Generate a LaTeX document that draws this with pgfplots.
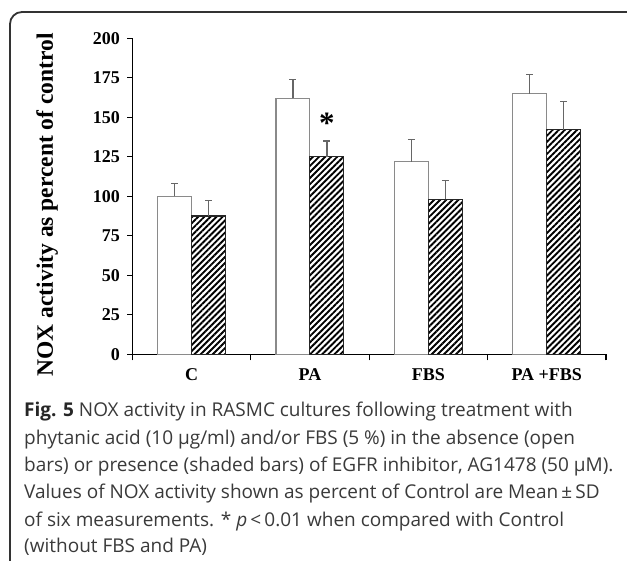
\documentclass[border=0pt]{standalone}
\usepackage{pgfplots}
\pgfplotsset{compat=1.18}
\usepackage{fontspec}
\setmainfont{Liberation Serif}
\newfontfamily\capfont{Open Sans}
\usetikzlibrary{patterns.meta}

\definecolor{framecol}{HTML}{333333}
\definecolor{barline}{HTML}{8A8A8A}
\definecolor{errcol}{HTML}{666666}
\definecolor{captext}{HTML}{3A3A3A}

% open bars: mean, +SD
\pgfplotstableread{
x  y    e
0  100  8
1  162  12
2  122  14
3  165  12
}\openbars
% shaded bars (AG1478)
\pgfplotstableread{
x  y    e
0  87.5 10
1  125  10
2  98   12
3  142  18
}\shadedbars

\begin{document}
\begin{tikzpicture}[x=1pt,y=1pt]
\useasboundingbox (0,0) rectangle (627,561);
\fill[white] (0,0) rectangle (627,561);
\draw[framecol, line width=1.8pt, rounded corners=12pt]
  (10,-5) -- (10,549) -- (640,549);

\begin{axis}[
  at={(132.3pt,206.7pt)}, anchor=south west,
  scale only axis,
  width=473.7pt, height=316pt,
  xmin=-0.5, xmax=3.5,
  ymin=0, ymax=200,
  ybar=0pt, bar width=0.287,
  axis x line=bottom, axis y line=left,
  axis line style={-, line width=1.5pt, black},
  xtick={0,1,2,3},
  xticklabels={C,PA,FBS,PA +FBS},
  major x tick style={draw=none},
  minor xtick={-0.5,0.5,1.5,2.5,3.5},
  minor x tick style={line width=1.3pt, black},
  minor tick length=6pt,
  ytick={0,25,...,200},
  major y tick style={line width=1.3pt, black},
  major tick length=5pt,
  tick align=outside,
  /pgf/number format/assume math mode=true,
  tick label style={font=\bfseries\fontsize{18}{18}\selectfont},
  xticklabel style={yshift=-6pt},
  yticklabel style={xshift=-4pt},
  ylabel={NOX activity as percent of control},
  every axis y label/.style={at={(axis description cs:-0.18,0.473)}, rotate=90,
    anchor=center, font=\bfseries\fontsize{23.5}{23.5}\selectfont},
  clip=false,
]
\addplot[draw=barline, line width=1.1pt, fill=white,
  error bars/.cd, y dir=plus, y explicit,
  error bar style={errcol, line width=1.3pt},
  error mark options={errcol, line width=1.3pt, mark size=3.5pt, rotate=90}]
  table[x=x, y=y, y error=e] {\openbars};
\addplot[draw=black!85, line width=1.1pt,
  pattern={Lines[angle=45, distance=4.3pt, line width=1.9pt]}, pattern color=black,
  error bars/.cd, y dir=plus, y explicit,
  error bar style={errcol, line width=1.3pt},
  error mark options={errcol, line width=1.3pt, mark size=3.5pt, rotate=90}]
  table[x=x, y=y, y error=e] {\shadedbars};
\node[font=\bfseries\fontsize{31}{31}\selectfont] at (axis cs:1.1435,146) {*};
\end{axis}

\begin{scope}[font=\capfont\fontsize{19}{28}\selectfont, captext]
\node[anchor=base west, inner sep=0] at (24,144.3) {{\bfseries\color{black!85}Fig. 5} NOX activity in RASMC cultures following treatment with};
\node[anchor=base west, inner sep=0] at (24,116) {phytanic acid (10 µg/ml) and/or FBS (5 \%) in the absence (open};
\node[anchor=base west, inner sep=0] at (24,89) {bars) or presence (shaded bars) of EGFR inhibitor, AG1478 (50 µM).};
\node[anchor=base west, inner sep=0] at (24,62.5) {Values of NOX activity shown as percent of Control are Mean\,±\,SD};
\node[anchor=base west, inner sep=0] at (24,34.5) {of six measurements. * \textit{p}\,<\,0.01 when compared with Control};
\node[anchor=base west, inner sep=0] at (24,8) {(without FBS and PA)};
\end{scope}
\end{tikzpicture}
\end{document}
